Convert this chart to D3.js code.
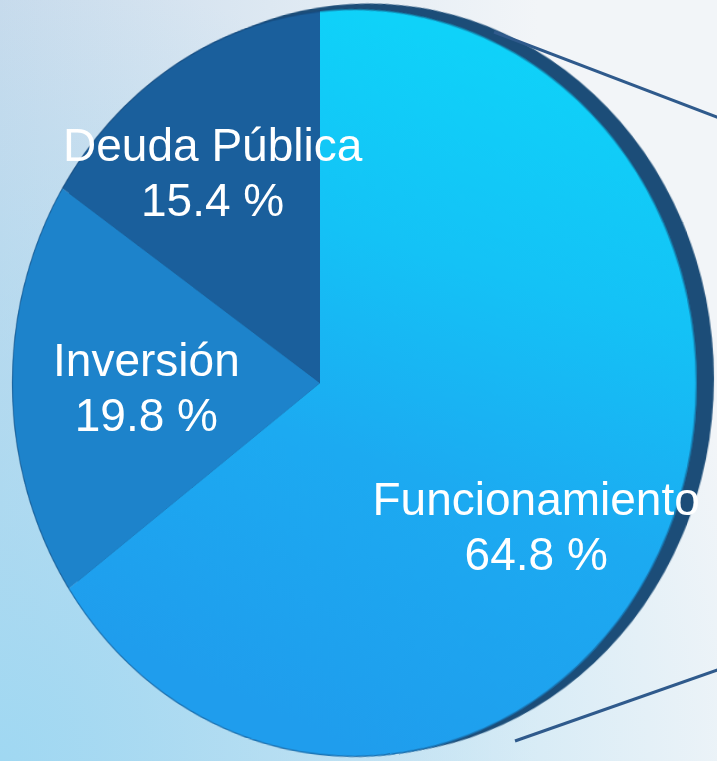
<!DOCTYPE html>
<html>
<head>
<meta charset="utf-8">
<script src="https://cdn.jsdelivr.net/npm/d3@7"></script>
<style>
html, body { margin: 0; padding: 0; }
body {
    width: 717px; height: 761px; overflow: hidden; position: relative;
    background:
        radial-gradient(circle at 0% 100%, rgba(160,216,242,1) 0%, rgba(160,216,242,0) 75%),
        linear-gradient(to right, #c8dbec 0%, #f2f5f8 75%);
}
#pie { position: absolute; left: -80px; top: -17px; transform-origin: 400px 400px; }
#overlay { position: absolute; left: 0; top: 0; }
</style>
</head>
<body>
<svg id="pie" width="800" height="800"></svg>
<svg id="overlay" width="717" height="761"></svg>
<script>
// data
var categories = ["Funcionamiento", "Inversión", "Deuda Pública"];
var values = [64.8, 19.8, 15.4];
var valueLabels = ["64.8 %", "19.8 %", "15.4 %"];

var colors = ["url(#gradFunc)", "#1d83cb", "#1a5f9c"];
// label placement: fraction of radius, angle nudge (deg)
var labelRadius = [0.70, 0.54, 0.67];
var labelNudge = [4.5, 0, -1.5];

var radius = 372;
var cx = 320, cy = 383;          // where the pie centre lands on screen
var persp = 1520, rotY = -24.3, rotX = 0;

var pieSvg = d3.select("#pie")
    .style("transform", "perspective(" + persp + "px) rotateY(" + rotY + "deg) rotateX(" + rotX + "deg)");

var defs = pieSvg.append("defs");
var grad = defs.append("linearGradient")
    .attr("id", "gradFunc")
    .attr("gradientUnits", "userSpaceOnUse")
    .attr("x1", radius * 0.4).attr("y1", -radius * 0.9)
    .attr("x2", -radius * 0.15).attr("y2", radius * 0.9);
grad.append("stop").attr("offset", "0%").attr("stop-color", "#0fd2f9");
grad.append("stop").attr("offset", "30%").attr("stop-color", "#14c2f6");
grad.append("stop").attr("offset", "60%").attr("stop-color", "#1caaf1");
grad.append("stop").attr("offset", "100%").attr("stop-color", "#1f9ded");

var g = pieSvg.append("g")
    .attr("transform", "translate(400,400)");

// the dark rim on the right
g.append("circle")
    .attr("cx", 15).attr("cy", -4)
    .attr("r", radius)
    .style("fill", "#1c4d78");

var pie = d3.pie()
    .sort(null)
    .value(function(d) { return d; });

var arc = d3.arc()
    .innerRadius(0)
    .outerRadius(radius);

var arcs = pie(values);

g.selectAll("path.slice")
    .data(arcs)
    .enter().append("path")
    .attr("class", "slice")
    .attr("d", arc)
    .style("fill", function(d, i) { return colors[i]; });

g.append("circle")
    .attr("r", radius - 0.5)
    .style("fill", "none")
    .style("stroke", "rgba(20,60,105,0.45)")
    .style("stroke-width", 1.5);

// same projection as the css transform, for the labels
function project(p) {
    var ax = rotX * Math.PI / 180, ay = rotY * Math.PI / 180;
    var x = p[0], y = p[1];
    var y1 = y * Math.cos(ax), z1 = y * Math.sin(ax);
    var x2 = x * Math.cos(ay) + z1 * Math.sin(ay);
    var z2 = -x * Math.sin(ay) + z1 * Math.cos(ay);
    var k = persp / (persp - z2);
    return [cx + x2 * k, cy + y1 * k];
}

var overlay = d3.select("#overlay");

// callout lines towards the right
var calloutLines = [[[494, 32], [740, 126]], [[515, 741], [740, 662]]];
overlay.selectAll("line.callout")
    .data(calloutLines)
    .enter().append("line")
    .attr("class", "callout")
    .attr("x1", function(d) { return d[0][0]; })
    .attr("y1", function(d) { return d[0][1]; })
    .attr("x2", function(d) { return d[1][0]; })
    .attr("y2", function(d) { return d[1][1]; })
    .style("stroke", "#2f5a8c")
    .style("stroke-width", 3);

var labels = overlay.selectAll("g.label")
    .data(arcs)
    .enter().append("g")
    .attr("class", "label")
    .attr("transform", function(d, i) {
        var a = (d.startAngle + d.endAngle) / 2 + labelNudge[i] * Math.PI / 180;
        var r = radius * labelRadius[i];
        var p = project([r * Math.sin(a), -r * Math.cos(a)]);
        return "translate(" + p[0] + "," + p[1] + ")";
    })
    .style("font-family", "'Liberation Sans', Arial, sans-serif")
    .style("font-size", "46px")
    .style("fill", "#ffffff")
    .attr("text-anchor", "middle");

labels.append("text")
    .attr("y", -11)
    .text(function(d, i) { return categories[i]; });

labels.append("text")
    .attr("y", 44)
    .text(function(d, i) { return valueLabels[i]; });
</script>
</body>
</html>
